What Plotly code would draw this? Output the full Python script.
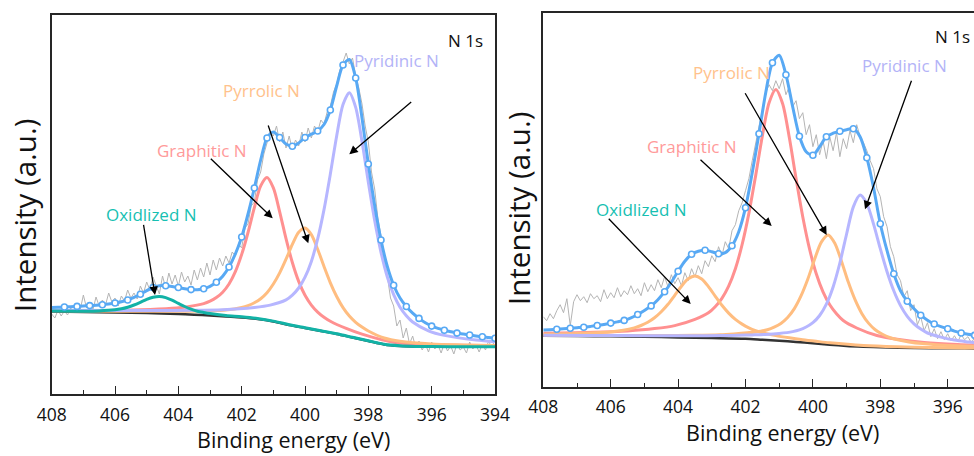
import plotly.graph_objects as go

# ---------------- LEFT PANEL DATA (intensity in arbitrary units) ----------------
L_bg_e = [408, 407, 406, 405, 404, 403.5, 403, 402.5, 402, 401.5, 401, 400.5, 400, 399.5,
          399, 398.5, 398, 397.5, 397, 396.5, 396, 395, 394]
L_bg_v = [82.5, 82, 81.5, 81, 80, 79.3, 78.5, 77.5, 76.5, 75, 72.5, 69, 66, 63,
          60, 56.5, 53, 49.5, 48, 47.5, 47.3, 47.3, 47.3]

L_graph_e = [408, 406.2, 405.2, 404.2, 403.7, 403.2, 403.0, 402.8, 402.6, 402.4, 402.2, 402.0,
             401.8, 401.6, 401.4, 401.2, 401.0, 400.8, 400.6, 400.4, 400.2, 400.0, 399.8,
             399.6, 399.4, 399.2, 398.7, 398.2, 397.2, 396.2, 394]
L_graph_v = [83.6, 83.6, 84.2, 85.7, 87.3, 90.4, 92.8, 96.4, 101.8, 110.0, 122.3, 139.6,
             161.5, 186.4, 208.1, 216.5, 206.1, 182.2, 155.3, 131.5, 112.6, 98.7, 88.9,
             81.9, 76.7, 72.8, 65.6, 59.9, 51.7, 49.4, 48.3]

L_pyrr_e = [408, 406, 405, 404, 403, 402.5, 402, 401.8, 401.6, 401.4, 401.2, 401.0, 400.8,
            400.6, 400.4, 400.2, 400.0, 399.8, 399.6, 399.4, 399.2, 399.0, 398.8, 398.6,
            398.4, 398.2, 398.0, 397.5, 397.0, 396.0, 395.0, 394.0]
L_pyrr_v = [83.2, 82.7, 82.8, 82.7, 83.2, 84.0, 86.5, 88.4, 91.2, 95.3, 101.3, 110.0, 121.1,
            134.8, 149.6, 161.8, 166.0, 159.4, 144.8, 127.5, 111.2, 97.5, 86.4, 78.0,
            71.7, 66.9, 63.0, 56.0, 52.7, 50.0, 49.1, 48.5]

L_pyrid_e = [408, 406, 404.6, 403.6, 402.6, 401.6, 401.1, 400.6, 400.4, 400.2, 400.0, 399.8,
             399.6, 399.4, 399.2, 399.0, 398.8, 398.6, 398.4, 398.2, 398.0, 397.8, 397.6,
             397.4, 397.2, 397.0, 396.8, 396.6, 396.1, 395.6, 394.6, 394.0]
L_pyrid_v = [83.7, 83.5, 83.6, 83.7, 84.3, 86.6, 88.9, 94.1, 98.9, 106.0, 116.8, 132.6,
             155.1, 184.4, 220.0, 258.1, 289.4, 301.2, 286.6, 252.5, 211.8, 173.6, 141.7,
             117.0, 99.4, 86.8, 78.3, 72.0, 63.2, 58.6, 53.9, 52.3]

L_oxid_e = [408, 407, 406.5, 406, 405.8, 405.6, 405.4, 405.2, 405.0, 404.8, 404.6, 404.4,
            404.2, 404.0, 403.8, 403.6, 403.4, 403.2, 403.0, 402.5, 402, 401.5, 401, 400.5,
            400, 399.5, 399, 398.5, 398, 397.5, 397, 396.5, 396, 395, 394]
L_oxid_v = [82.9, 82.8, 83.1, 84.2, 85.2, 86.8, 89.0, 91.7, 94.6, 96.8, 97.6, 96.4,
            93.8, 90.6, 87.5, 84.9, 82.8, 81.5, 80.4, 78.5, 77.2, 75.5, 72.9, 69.3,
            66.3, 63.2, 60.2, 56.7, 53.2, 49.7, 48.2, 47.6, 47.4, 47.3, 47.3]

# envelope, sampled every 0.2 eV from 408 down to 394
L_env_v = [86.5, 86.7, 87.0, 87.3, 87.6, 88.0, 88.4, 88.8, 89.3, 90.0,
           91.0, 92.3, 94.0, 96.6, 99.8, 103.4, 106.5, 108.2, 108.3, 107.6,
           106.5, 105.2, 104.4, 104.3, 105.3, 107.6, 111.8, 117.8, 127.0, 140.0,
           157.0, 180.0, 206.0, 234.0, 256.0, 262.0, 256.5, 250.0, 247.8, 251.0,
           256.5, 259.8, 263.0, 269.5, 284.0, 308.0, 329.0, 334.5, 316.0, 276.0,
           230.0, 188.5, 154.0, 127.5, 108.8, 96.0, 87.5, 80.8, 75.6, 71.2,
           67.9, 65.6, 63.8, 62.3, 60.9, 59.9, 59.0, 58.1, 57.2, 56.5,
           55.8]

# raw spectrum, sampled every 0.1 eV from 408 down to 394
L_raw_v = [80, 76, 84, 78, 83, 79, 86, 81, 88, 84,
           99, 86, 92, 84, 97, 88, 94, 89, 101, 92,
           96, 88, 98, 93, 104, 96, 101, 95, 108, 101,
           112, 104, 117, 109, 100, 118, 106, 121, 110, 119,
           108, 122, 112, 118, 109, 124, 114, 126, 117, 131,
           119, 134, 124, 136, 128, 138, 131, 142, 138, 150,
           146, 166, 170, 188, 192, 214, 222, 240, 252, 262,
           258, 268, 252, 262, 246, 258, 244, 254, 248, 262,
           252, 266, 256, 268, 262, 274, 270, 282, 288, 302,
           310, 324, 332, 341, 330, 336, 318, 306, 290, 268,
           252, 222, 205, 176, 158, 134, 118, 96, 88, 68,
           74, 56, 66, 50, 58, 46, 53, 44, 50, 42,
           52, 45, 49, 41, 51, 43, 48, 40, 50, 44,
           47, 41, 52, 45, 49, 42, 50, 44, 53, 46,
           55]

# ---------------- RIGHT PANEL DATA ----------------
R_bg_e = [408, 407, 406, 405, 404, 403, 402, 401.5, 401, 400.5, 400, 399.5, 399, 398.5,
          398, 397, 396, 395, 394]
R_bg_v = [51.0, 50.7, 50.4, 50.0, 49.3, 48.7, 48.0, 47.0, 46.0, 44.8, 43.4, 42.0, 40.8, 40.0,
          39.4, 38.7, 38.4, 38.3, 38.3]

R_oxid_e = [408, 407, 406.3, 405.9, 405.5, 405.3, 405.1, 404.9, 404.7, 404.5, 404.3, 404.1,
            403.9, 403.7, 403.5, 403.3, 403.1, 402.9, 402.7, 402.5, 402.3, 402.1, 401.9,
            401.7, 401.5, 401.1, 400.7, 400.3, 399.9, 399.5, 398.5, 397.5, 396.5, 395.5, 394]
R_oxid_v = [52.5, 53.1, 54.1, 55.3, 57.2, 58.8, 61.2, 64.4, 68.9, 74.9, 82.4, 91.4,
            100.5, 107.9, 110.8, 107.7, 100.1, 90.6, 81.4, 73.6, 67.3, 62.6, 58.9,
            56.1, 54.0, 51.1, 48.9, 47.0, 45.4, 43.9, 41.2, 39.9, 39.2, 38.8, 38.65]

R_graph_e = [408, 406.5, 405.5, 404.7, 404.1, 403.5, 403.1, 402.9, 402.7, 402.5, 402.3, 402.1,
             401.9, 401.7, 401.5, 401.3, 401.1, 400.9, 400.7, 400.5, 400.3, 400.1, 399.9,
             399.7, 399.5, 399.3, 399.1, 398.7, 398.1, 397.5, 396.7, 395.7, 394.2]
R_graph_v = [53.4, 54.4, 55.8, 58.1, 61.1, 67.3, 73.9, 80.0, 88.4, 100.6, 118.0, 142.2,
             173.3, 210.8, 250.8, 284.0, 297.2, 283.2, 249.1, 208.2, 169.7, 137.8, 112.9,
             94.8, 81.9, 72.9, 66.2, 58.7, 51.2, 47.4, 44.2, 42.2, 40.7]

R_pyrr_e = [408, 406.5, 405.5, 404.5, 403.55, 402.75, 402.35, 401.95, 401.55, 401.35, 401.15,
            400.95, 400.75, 400.55, 400.35, 400.15, 399.95, 399.75, 399.55, 399.35, 399.15,
            398.95, 398.75, 398.55, 398.35, 398.15, 397.95, 397.75, 397.55, 397.15, 396.75,
            396.35, 395.55, 394.55, 394.0]
R_pyrr_v = [51.5, 51.3, 51.2, 51.2, 51.4, 52.0, 52.8, 53.9, 55.5, 57.0, 59.6,
            63.3, 69.2, 78.1, 91.0, 107.7, 127.4, 144.6, 151.8, 143.5, 125.3,
            104.6, 87.0, 73.3, 63.6, 57.0, 52.7, 49.5, 47.4, 44.8, 43.1,
            42.0, 40.65, 39.8, 39.5]

R_pyrid_e = [408, 406.6, 405.6, 404.6, 403.6, 402.6, 402.2, 401.8, 401.4, 401.0, 400.6, 400.4,
             400.2, 400.0, 399.8, 399.6, 399.4, 399.2, 399.0, 398.8, 398.6, 398.4, 398.2,
             398.0, 397.8, 397.6, 397.4, 397.2, 397.0, 396.8, 396.6, 396.2, 395.8, 395.4,
             395.0, 394.0]
R_pyrid_v = [51.5, 51.3, 51.15, 50.9, 50.85, 51.1, 51.4, 51.8, 52.3, 53.3, 55.1, 56.8,
             59.7, 64.0, 71.2, 82.6, 99.8, 123.7, 152.7, 179.8, 191.6, 183.1, 162.6,
             138.0, 115.0, 95.9, 81.1, 70.4, 62.8, 57.6, 53.7, 49.6, 46.6, 44.8,
             43.3, 41.4]

R_env_v = [56.6, 57.0, 57.5, 58.0, 58.5, 59.0, 59.5, 60.3, 61.2, 62.3,
           63.6, 64.8, 66.3, 68.8, 72.2, 76.2, 80.8, 87.0, 95.0, 104.5,
           115.5, 125.5, 132.5, 135.5, 136.5, 135.0, 133.0, 134.0, 141.0, 155.0,
           179.0, 214.0, 253.0, 294.0, 324.0, 331.5, 312.0, 280.0, 250.5, 235.0,
           231.5, 240.0, 250.0, 253.5, 255.5, 257.0, 258.0, 250.0, 229.0, 199.0,
           163.0, 136.0, 113.0, 96.0, 85.5, 78.0, 71.5, 66.5, 62.7, 60.0,
           57.9, 55.6, 53.7, 52.4, 51.4, 50.5, 49.8, 49.2, 48.7, 48.3,
           48.0]

R_raw_v = [70, 66, 73, 68, 76, 82, 74, 88, 61, 85,
           92, 86, 90, 84, 93, 88, 91, 85, 97, 88,
           94, 89, 99, 90, 96, 92, 101, 93, 98, 91,
           104, 95, 102, 96, 107, 99, 110, 100, 112, 103,
           109, 101, 114, 106, 118, 110, 121, 113, 126, 120,
           131, 125, 140, 131, 145, 138, 156, 162, 176, 184,
           196, 208, 226, 244, 262, 280, 294, 302, 296, 306,
           298, 308, 292, 300, 280, 286, 268, 274, 252, 262,
           240, 252, 232, 246, 228, 250, 236, 254, 230, 248,
           238, 256, 244, 262, 250, 244, 236, 226, 218, 198,
           190, 170, 160, 140, 130, 112, 106, 90, 96, 76,
           82, 62, 70, 56, 64, 50, 58, 48, 55, 47,
           53, 46, 51, 45, 52, 47, 50, 44, 49, 46,
           48]

# sampling grids (energies) for envelope and raw spectra
L_env_e = [round(408.0 - 0.2 * i, 1) for i in range(len(L_env_v))]
R_env_e = [round(408.0 - 0.2 * i, 1) for i in range(len(R_env_v))]
L_raw_e = [round(408.0 - 0.1 * i, 1) for i in range(len(L_raw_v))]
R_raw_e = [round(408.0 - 0.1 * i, 1) for i in range(len(R_raw_v))]

# ---------------- STYLE ----------------
FONT = "Open Sans"
C_ENV = "#58a9f4"
C_RED = "#ff9090"
C_ORG = "#ffbd80"
C_PUR = "#b6b6ff"
C_TEAL = "#12b2a6"
C_BG = "#333333"
C_RAW = "#b4b4b4"
AX = "#262626"
W, H = 974, 456


def px(x):
    return x / W


def py(y):
    return 1 - y / H


fig = go.Figure()


def line(x, y, color, width, ax, shape="spline"):
    fig.add_trace(go.Scatter(x=x, y=y, mode="lines", xaxis=ax[0], yaxis=ax[1],
                             line=dict(color=color, width=width, shape=shape, smoothing=0.8),
                             hoverinfo="skip", showlegend=False))


def envelope(x, y, ax):
    line(x, y, C_ENV, 3, ax)
    fig.add_trace(go.Scatter(x=x[2::2], y=y[2::2], mode="markers", xaxis=ax[0], yaxis=ax[1],
                             marker=dict(symbol="circle", size=6, color="white",
                                         line=dict(color=C_ENV, width=1.6)),
                             hoverinfo="skip", showlegend=False))


A1 = ("x", "y")
A2 = ("x2", "y2")

# left panel
line(L_raw_e, L_raw_v, C_RAW, 1, A1, shape="linear")
line(L_bg_e, L_bg_v, C_BG, 2.5, A1)
line(L_graph_e, L_graph_v, C_RED, 3, A1)
line(L_pyrr_e, L_pyrr_v, C_ORG, 3, A1)
line(L_pyrid_e, L_pyrid_v, C_PUR, 3, A1)
line(L_oxid_e, L_oxid_v, C_TEAL, 3, A1)
envelope(L_env_e, L_env_v, A1)

# right panel
line(R_raw_e, R_raw_v, C_RAW, 1, A2, shape="linear")
line(R_bg_e, R_bg_v, C_BG, 2.5, A2)
line(R_graph_e, R_graph_v, C_RED, 3, A2)
line(R_oxid_e, R_oxid_v, C_ORG, 3, A2)
line(R_pyrr_e, R_pyrr_v, C_ORG, 3, A2)
line(R_pyrid_e, R_pyrid_v, C_PUR, 3, A2)
envelope(R_env_e, R_env_v, A2)


def xaxis(rng, dom):
    return dict(range=rng, domain=dom, automargin=False, showline=True, linecolor=AX,
                linewidth=1.5, mirror=True,
                ticks="inside", ticklen=8, tickwidth=1.3, tickcolor=AX, tick0=394, dtick=2,
                minor=dict(dtick=1, tick0=394, ticks="inside", ticklen=4, tickwidth=1.3,
                           tickcolor=AX),
                showgrid=False, zeroline=False, ticklabelstandoff=4,
                tickfont=dict(family=FONT, size=17.5, color="#111111"))


def yaxis(rng, dom, anchor, mirror):
    return dict(range=rng, domain=dom, anchor=anchor, automargin=False, showline=True,
                linecolor=AX, linewidth=1.5, mirror=mirror, ticks="", showticklabels=False,
                showgrid=False, zeroline=False)


fig.update_layout(
    template="none",
    width=W, height=H, autosize=False,
    margin=dict(l=0, r=0, t=0, b=0, pad=0, autoexpand=False),
    paper_bgcolor="white", plot_bgcolor="white",
    showlegend=False,
    xaxis=dict(xaxis([408, 394], [px(51.7), px(495)]), anchor="y"),
    yaxis=yaxis([0, 379], [py(394), py(15)], "x", True),
    xaxis2=dict(xaxis([408, 408 - (W - 543.3) / 33.7], [px(543.3), 1.0]), anchor="y2"),
    yaxis2=yaxis([0, 373.4], [py(386.7), py(13.3)], "x2", False),
)

ann = []


def text(x, y, s, size, color, angle=0):
    ann.append(dict(x=px(x), y=py(y), xref="paper", yref="paper", text=s, showarrow=False,
                    xanchor="center", yanchor="middle", textangle=angle,
                    font=dict(family=FONT, size=size, color=color)))


def arrow(x0, y0, x1, y1):
    # tail (x0, y0) -> tip (x1, y1), page pixels
    ann.append(dict(x=px(x1), y=py(y1), xref="paper", yref="paper",
                    ax=x0 - x1, ay=y0 - y1, axref="pixel", ayref="pixel",
                    text="", showarrow=True, arrowhead=2,
                    arrowsize=1.3, arrowwidth=1.3, arrowcolor="#000000"))


# axis titles
text(293, 439, "Binding energy (eV)", 21.5, "#111111")
text(782, 432, "Binding energy (eV)", 21.5, "#111111")
text(25, 216, "Intensity (a.u.)", 29.5, "#111111", -90)
text(519, 209, "Intensity (a.u.)", 29.5, "#111111", -90)
text(465.5, 40, "N 1s", 17, "#111111")
text(952.5, 36, "N 1s", 17, "#111111")

# component labels, left
text(396.7, 60.5, "Pyridinic N", 17, "#b3b3f7")
text(261, 90.5, "Pyrrolic N", 17, "#ffc28c")
text(202, 150.5, "Graphitic N", 17, "#ff9a9a")
text(151.5, 214, "Oxidlized N", 17, "#17bfb2")
# component labels, right
text(904.7, 65.5, "Pyridinic N", 17, "#b3b3f7")
text(731.5, 72.5, "Pyrrolic N", 17, "#ffc28c")
text(692, 146.5, "Graphitic N", 17, "#ff9a9a")
text(641.7, 209.5, "Oxidlized N", 17, "#17bfb2")

# arrows, left
arrow(143.3, 223.3, 155, 295)
arrow(209.3, 157.3, 272.7, 218.3)
arrow(267.7, 124, 308.3, 243.3)
arrow(412.7, 100.7, 349.3, 154.3)
# arrows, right
arrow(607.3, 217.3, 690.7, 304)
arrow(699, 158.3, 771.7, 226)
arrow(744.3, 91.7, 826.7, 235)
arrow(912, 79.3, 865, 209.3)

fig.update_layout(annotations=ann)
fig.write_html("out.html")
